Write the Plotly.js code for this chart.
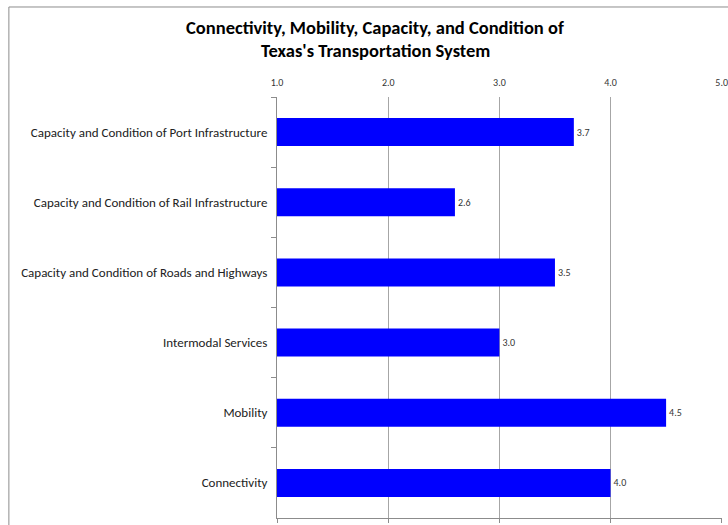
<!DOCTYPE html>
<html>
<head>
<meta charset="utf-8">
<script src="https://cdn.plot.ly/plotly-3.0.1.min.js"></script>
<style>html,body{margin:0;padding:0;background:#fff;}</style>
</head>
<body>
<div id="chart" style="width:728px;height:525px;"></div>
<script>
const categories = [
  "Capacity and Condition of Port Infrastructure",
  "Capacity and Condition of Rail Infrastructure",
  "Capacity and Condition of Roads and Highways",
  "Intermodal Services",
  "Mobility",
  "Connectivity"
];
const scores = [3.67, 2.6, 3.5, 3.0, 4.5, 4.0];
const tickValues = [1, 2, 3, 4, 5];
const titleLine1 = "Connectivity, Mobility, Capacity, and Condition of";
const titleLine2 = "Texas's Transportation System";

const font = "Carlito, Calibri, Lato, 'Open Sans', sans-serif";

const traces = [{
  type: "bar",
  orientation: "h",
  y: categories,
  x: scores,
  marker: {color: "#0000FF"},
  text: scores.map(v => v.toFixed(1)),
  textposition: "outside",
  cliponaxis: false,
  textfont: {family: font, size: 10, color: "#333333"},
  hoverinfo: "x+y"
}, {
  type: "scatter",
  x: [1, 5],
  y: [categories[0], categories[0]],
  xaxis: "x2",
  mode: "none",
  showlegend: false,
  hoverinfo: "skip"
}];

const layout = {
  width: 728,
  height: 525,
  margin: {l: 277, r: 6, t: 97, b: 7},
  paper_bgcolor: "#ffffff",
  plot_bgcolor: "#ffffff",
  showlegend: false,
  bargap: 0.6,
  title: {
    text: "<b>" + titleLine1 + "</b>",
    x: 0.515, xref: "container", xanchor: "center",
    y: 1 - 28 / 525, yref: "container", yanchor: "middle",
    font: {family: font, size: 18.5, color: "#000000"}
  },
  annotations: [{
    text: "<b>" + titleLine2 + "</b>",
    xref: "paper", yref: "paper",
    x: (375 - 277) / 445, y: 1 + (97 - 50) / 421,
    xanchor: "center", yanchor: "middle",
    showarrow: false,
    font: {family: font, size: 18.5, color: "#000000"}
  }],
  font: {family: font, color: "#222222"},
  xaxis: {
    side: "top",
    range: [0.999, 5.003],
    tickvals: tickValues,
    tickformat: ".1f",
    showgrid: true,
    gridcolor: "#a6a6a6",
    gridwidth: 1,
    zeroline: false,
    showline: false,
    ticks: "",
    ticklabelstandoff: 8,
    ticklabeloverflow: "allow",
    tickfont: {family: font, size: 10, color: "#333333"},
    fixedrange: true
  },
  xaxis2: {
    overlaying: "x",
    side: "bottom",
    anchor: "y",
    range: [0.999, 5.003],
    tickvals: tickValues,
    showticklabels: false,
    showgrid: false,
    zeroline: false,
    showline: true,
    linecolor: "#8c8c8c",
    ticks: "outside",
    ticklen: 4,
    tickcolor: "#8c8c8c"
  },
  yaxis: {
    autorange: "reversed",
    type: "category",
    tickson: "boundaries",
    ticks: "outside",
    ticklen: 5,
    tickcolor: "#8c8c8c",
    showline: true,
    linecolor: "#8c8c8c",
    showgrid: false,
    ticklabelstandoff: 6,
    tickfont: {family: font, size: 13, color: "#222222"},
    fixedrange: true
  },
  shapes: [{
    type: "rect", xref: "paper", yref: "paper",
    x0: -0.6025, x1: 1.5, y0: -0.5, y1: 1.2138,
    line: {color: "#8c8c8c", width: 1}, fillcolor: "rgba(0,0,0,0)", layer: "below"
  }]
};

Plotly.newPlot("chart", traces, layout, {displayModeBar: false, staticPlot: true});
</script>
</body>
</html>
